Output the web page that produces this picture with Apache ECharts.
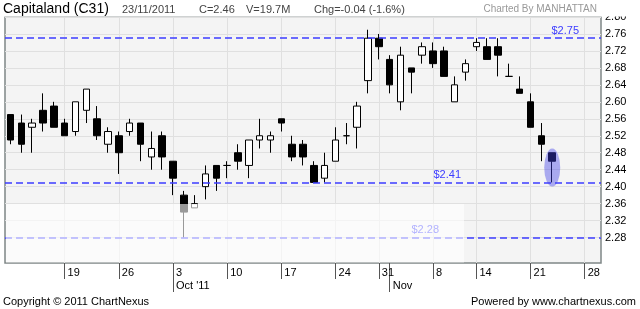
<!DOCTYPE html>
<html><head><meta charset="utf-8">
<script src="https://cdn.jsdelivr.net/npm/echarts@6/dist/echarts.min.js"></script>
<style>html,body{margin:0;padding:0;background:#fff}#c{width:640px;height:309px}</style>
</head><body><div id="c"></div>
<script>
const dates = ['2011-09-12','2011-09-13','2011-09-14','2011-09-15','2011-09-16','2011-09-19','2011-09-20','2011-09-21','2011-09-22','2011-09-23','2011-09-26','2011-09-27','2011-09-28','2011-09-29','2011-09-30',
'2011-10-03','2011-10-04','2011-10-05','2011-10-06','2011-10-07','2011-10-10','2011-10-11','2011-10-12','2011-10-13','2011-10-14','2011-10-17','2011-10-18','2011-10-19','2011-10-20','2011-10-21','2011-10-24','2011-10-25','2011-10-27','2011-10-28','2011-10-31',
'2011-11-01','2011-11-02','2011-11-03','2011-11-04','2011-11-08','2011-11-09','2011-11-10','2011-11-11','2011-11-14','2011-11-15','2011-11-16','2011-11-17','2011-11-18','2011-11-21','2011-11-22','2011-11-23','2011-11-24','2011-11-25','2011-11-28','2011-11-29'];
const opens  = [2.57,2.55,2.54,2.58,2.59,2.55,2.53,2.58,2.56,2.50,2.52,2.53,2.55,2.47,2.52,2.46,2.38,2.35,2.40,2.45,2.45,2.48,2.45,2.51,2.51,2.56,2.50,2.50,2.45,2.42,2.46,2.52,2.54,2.65,2.75,2.70,2.60,2.68,2.71,2.72,2.72,2.60,2.67,2.73,2.73,2.73,2.66,2.63,2.60,2.52,2.48];
const closes = [2.51,2.50,2.55,2.55,2.54,2.52,2.60,2.63,2.52,2.53,2.48,2.55,2.50,2.49,2.47,2.42,2.34,2.36,2.43,2.42,2.45,2.46,2.51,2.52,2.52,2.55,2.47,2.47,2.41,2.45,2.51,2.52,2.59,2.75,2.73,2.64,2.71,2.67,2.73,2.69,2.66,2.64,2.69,2.74,2.70,2.71,2.66,2.62,2.54,2.50,2.46];
const lows   = [2.50,2.48,2.48,2.53,2.54,2.52,2.52,2.55,2.51,2.48,2.43,2.52,2.46,2.44,2.44,2.38,2.28,2.35,2.37,2.39,2.42,2.44,2.42,2.49,2.48,2.53,2.46,2.45,2.41,2.41,2.46,2.50,2.49,2.62,2.70,2.62,2.58,2.62,2.69,2.68,2.66,2.60,2.65,2.72,2.70,2.66,2.66,2.62,2.54,2.46,2.41];
const highs  = [2.57,2.57,2.56,2.62,2.60,2.56,2.60,2.63,2.59,2.54,2.53,2.56,2.55,2.53,2.53,2.46,2.39,2.38,2.45,2.45,2.46,2.50,2.51,2.56,2.53,2.56,2.52,2.51,2.46,2.48,2.54,2.55,2.60,2.77,2.76,2.71,2.73,2.68,2.74,2.74,2.73,2.66,2.70,2.75,2.75,2.75,2.69,2.66,2.62,2.55,2.48];
const weekTicks  = ['2011-09-19','2011-09-26','2011-10-03','2011-10-10','2011-10-17','2011-10-24','2011-10-31','2011-11-08','2011-11-14','2011-11-21','2011-11-28'];
const weekLabels = ['19','26','3','10','17','24','31','8','14','21','28'];
const monthTicks  = ['2011-10-03','2011-11-01'];
const monthLabels = ["Oct '11",'Nov'];
const yTicks = [2.28,2.32,2.36,2.40,2.44,2.48,2.52,2.56,2.60,2.64,2.68,2.72,2.76,2.80];
const levels = [2.75,2.41,2.28];
const levelLabels = ['$2.75','$2.41','$2.28'];
const levelLabelShift = [22,140,162];

const FONT = 'Liberation Sans, Arial, sans-serif';
const candles = opens.map((o,i)=>[o,closes[i],lows[i],highs[i]]);
const last = candles.length-1;

const chart = echarts.init(document.getElementById('c'));
chart.setOption({
  animation:false,
  backgroundColor:'#fff',
  grid:{left:5,top:17,width:596,height:246,show:true,backgroundColor:'#f4f4f4',borderColor:'#7f8787',borderWidth:1.5},
  xAxis:[{
    type:'category',data:dates,boundaryGap:true,
    axisLine:{show:false},
    axisTick:{show:true,alignWithLabel:true,length:16,interval:(i,v)=>weekTicks.includes(v),lineStyle:{color:'#555',width:1}},
    axisLabel:{interval:(i,v)=>weekTicks.includes(v),formatter:v=>weekLabels[weekTicks.indexOf(v)],align:'left',padding:[0,0,0,3],margin:4,color:'#000',fontSize:11,fontFamily:FONT},
    splitLine:{show:true,alignWithLabel:true,interval:(i,v)=>weekTicks.includes(v),lineStyle:{color:'#e0e0e0',width:1}}
  },{
    type:'category',data:dates,boundaryGap:true,position:'bottom',offset:0,gridIndex:0,
    axisLine:{show:false},
    axisTick:{show:true,alignWithLabel:true,length:29,interval:(i,v)=>monthTicks.includes(v),lineStyle:{color:'#555',width:1}},
    axisLabel:{interval:(i,v)=>monthTicks.includes(v),formatter:v=>monthLabels[monthTicks.indexOf(v)],align:'left',padding:[0,0,0,3],margin:17,color:'#000',fontSize:11,fontFamily:FONT},
    splitLine:{show:false}
  }],
  yAxis:{
    type:'value',position:'right',min:2.22,max:2.80,scale:true,
    axisLine:{show:false},
    axisTick:{show:false,customValues:yTicks},
    axisLabel:{customValues:yTicks,formatter:v=>v.toFixed(2),margin:4,color:'#000',fontSize:11,fontFamily:FONT},
    splitLine:{show:true,lineStyle:{color:'#e0e0e0',width:1}}
  },
  series:[{
    type:'candlestick',xAxisIndex:0,yAxisIndex:0,data:candles,barWidth:7,
    itemStyle:{color:'#ffffff',color0:'#000000',borderColor:'#000000',borderColor0:'#000000',borderColorDoji:'#000000',borderWidth:1},
    markLine:{
      silent:true,symbol:['none','none'],
      lineStyle:{color:'#3c3cff',type:[7,4],width:1.6},
      label:{show:true,position:'insideEndTop',color:'#3c3cff',fontSize:11,fontFamily:FONT},
      data:levels.map((v,k)=>({yAxis:v,label:{formatter:levelLabels[k],distance:[levelLabelShift[k],2]}}))
    },
    markPoint:{
      silent:true,symbol:'circle',symbolSize:[16,38],
      itemStyle:{color:'rgba(64,64,230,0.42)'},label:{show:false},
      data:[{coord:[last,(highs[last]+lows[last])/2]}]
    }
  }],
  graphic:[
    {type:'rect',z:100,shape:{x:6,y:204,width:458,height:58.5},style:{fill:'rgba(255,255,255,0.6)'}},
    {type:'rect',z:100,shape:{x:0,y:0,width:640,height:16.5},style:{fill:'#fff'}},
    {type:'text',z:101,left:3,top:2,style:{text:'Capitaland (C31)',font:'14px '+FONT,fill:'#000'}},
    {type:'text',z:101,left:122,top:4,style:{text:'23/11/2011',font:'11px '+FONT,fill:'#444'}},
    {type:'text',z:101,left:199,top:4,style:{text:'C=2.46',font:'11px '+FONT,fill:'#444'}},
    {type:'text',z:101,left:246,top:4,style:{text:'V=19.7M',font:'11px '+FONT,fill:'#444'}},
    {type:'text',z:101,left:314,top:4,style:{text:'Chg=-0.04 (-1.6%)',font:'11px '+FONT,fill:'#444'}},
    {type:'text',z:101,right:43,top:4,style:{text:'Charted By MANHATTAN',font:'10px '+FONT,fill:'#999'}},
    {type:'text',z:101,left:3,top:296,style:{text:'Copyright \u00a9 2011 ChartNexus',font:'11px '+FONT,fill:'#000'}},
    {type:'text',z:101,right:4,top:296,style:{text:'Powered by www.chartnexus.com',font:'11px '+FONT,fill:'#000'}}
  ]
});
</script></body></html>
